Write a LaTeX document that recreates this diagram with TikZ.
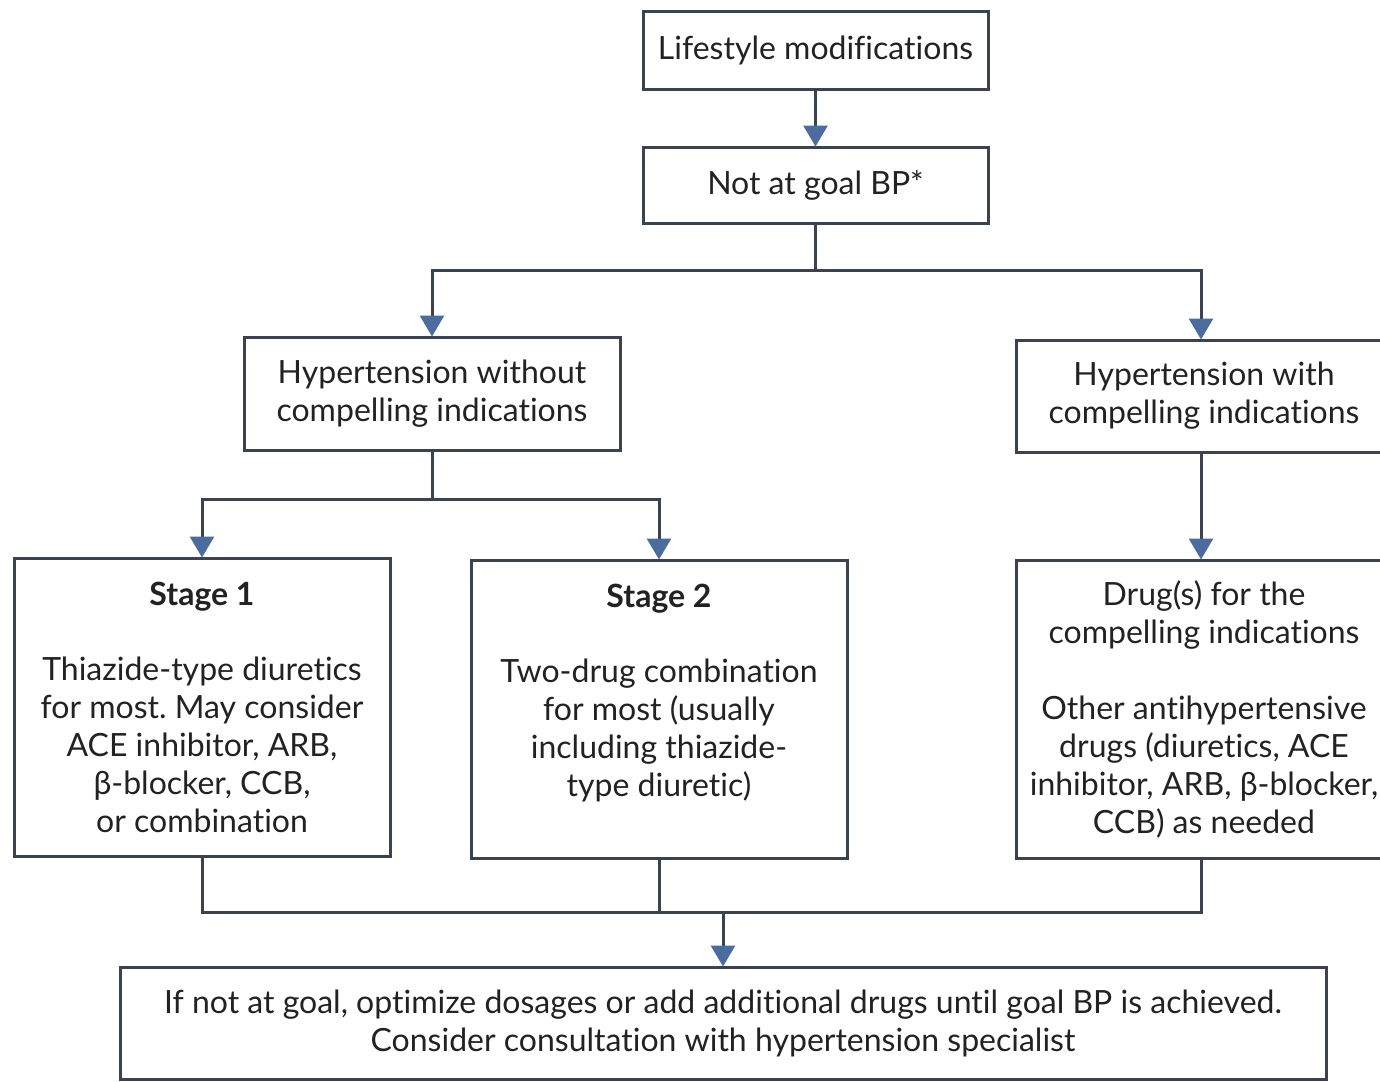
\documentclass[tikz,border=0pt]{standalone}
\usepackage{fontspec}
\setmainfont{Lato}[Ligatures={NoCommon,NoDiscretionary,NoRare}]
\frenchspacing
\usetikzlibrary{arrows.meta,positioning}
\definecolor{edge}{HTML}{3C4250}
\definecolor{tipblue}{HTML}{4C6C9E}
\definecolor{ink}{HTML}{222222}
\tikzset{
  box/.style={draw=edge, line width=3pt, fill=white, text=ink, align=center,
    inner sep=0pt, font=\fontsize{32}{38}\selectfont},
  conn/.style={draw=edge, line width=3pt},
  arr/.style={conn, -{Triangle[width=24pt,length=21pt,color=tipblue,fill=tipblue]}, shorten >=-1pt},
}
\begin{document}
\begin{tikzpicture}[x=1pt,y=-1pt]
\useasboundingbox (0,0) rectangle (1380,1081);
\fill[white] (0,0) rectangle (1380,1081);

% boxes
\node[box, minimum width=345pt, minimum height=77pt] (b1) at (815.5,50.5) {Lifestyle modifications};
\node[box, minimum width=345pt, minimum height=76pt] (b2) at (815.5,185) {Not at goal BP*};
\node[box, minimum width=376pt, minimum height=113pt] (b3) at (432,393.5)
  {Hypertension without\\compelling indications};
\node[box, minimum width=376pt, minimum height=112pt] (b4) at (1204,396)
  {Hypertension with\\compelling indications};
\node[box, minimum width=376pt, minimum height=298pt] (b5) at (202,707)
  {\textbf{Stage 1}\\[37pt]Thiazide-type diuretics\\for most. May consider\\ACE inhibitor, ARB,\\β-blocker, CCB,\\or combination};
\node[box, minimum width=376pt, minimum height=298pt] (b6) at (659,709)
  {\textbf{Stage 2}\\[37pt]Two-drug combination\\for most (usually\\including thiazide-\\type diuretic)\\\mbox{}};
\node[box, minimum width=376pt, minimum height=298pt] (b7) at (1204,709)
  {Drug(s) for the\\compelling indications\\[38pt]Other antihypertensive\\drugs (diuretics, ACE\\inhibitor, ARB, β-blocker,\\CCB) as needed};
\node[box, minimum width=1206pt, minimum height=112pt] (b8) at (723,1023)
  {If not at goal, optimize dosages or add additional drugs until goal BP is achieved.\\Consider consultation with hypertension specialist};

% junction points
\coordinate (j1) at (818,270);
\coordinate (j2) at (431,499);
\coordinate (j3) at (723,912);
\coordinate (rt) at (1201,0);

% connectors
\draw[arr] (b1.south) -- (b2.north);
\draw[conn] (b2.south) -- (b2.south |- j1);
\draw[arr] (b2.south |- j1) -| (rt |- b4.north);
\draw[arr] (b2.south |- j1) -| (b3.north);
\draw[conn] (b3.south) -- (b3.south |- j2);
\draw[arr] (b3.south |- j2) -| (b5.north);
\draw[arr] (b3.south |- j2) -| (b6.north);
\draw[arr] (rt |- b4.south) -- (rt |- b7.north);
\draw[conn] (b5.south) -- (b5.south |- j3) -- (rt |- j3) -- (rt |- b7.south);
\draw[conn] (b6.south) -- (b6.south |- j3);
\draw[arr] (j3) -- (b8.north);
\end{tikzpicture}
\end{document}
